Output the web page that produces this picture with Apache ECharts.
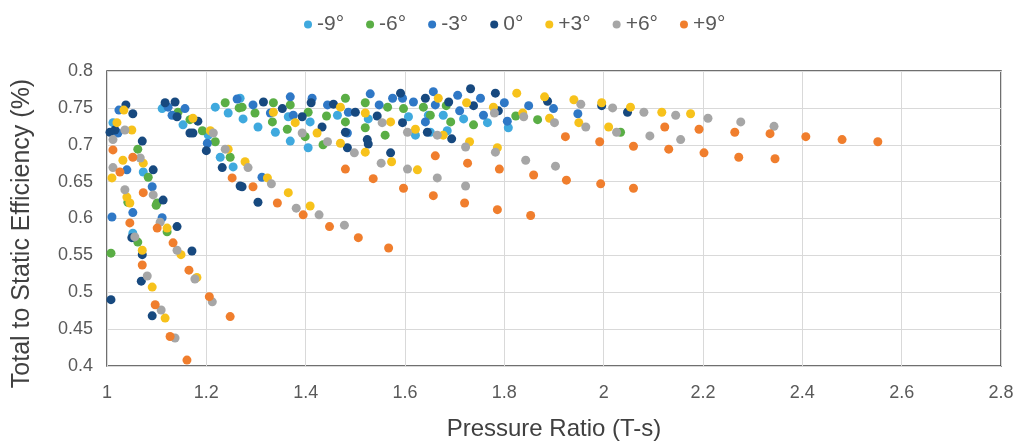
<!DOCTYPE html>
<html>
<head>
<meta charset="utf-8">
<script src="https://cdn.jsdelivr.net/npm/echarts@6/dist/echarts.min.js"></script>
<style>
  html, body { margin: 0; padding: 0; background: #fff; }
  #main { width: 1019px; height: 443px; }
</style>
</head>
<body>
<div id="main"></div>
<script>
// tick labels (axis ranges)
const xTicks = [1, 1.2, 1.4, 1.6, 1.8, 2, 2.2, 2.4, 2.6, 2.8]
const yTicks = [0.4, 0.45, 0.5, 0.55, 0.6, 0.65, 0.7, 0.75, 0.8]

const seriesNames = ['-9°', '-6°', '-3°', '0°', '+3°', '+6°', '+9°']

// [pressure ratio, efficiency]
const minus9 = [
  [1.012, 0.730], [1.073, 0.663], [1.052, 0.580], [1.111, 0.749], [1.153, 0.727],
  [1.204, 0.713], [1.228, 0.683], [1.254, 0.670], [1.218, 0.751], [1.244, 0.743],
  [1.274, 0.735], [1.268, 0.763], [1.304, 0.724], [1.339, 0.717], [1.365, 0.738],
  [1.369, 0.705], [1.409, 0.731], [1.405, 0.696], [1.464, 0.740], [1.526, 0.735],
  [1.607, 0.738], [1.647, 0.740], [1.621, 0.713], [1.677, 0.740], [1.718, 0.735],
  [1.766, 0.730], [1.808, 0.723], [1.651, 0.717], [1.685, 0.719]
]
const minus6 = [
  [1.062, 0.694], [1.083, 0.656], [1.101, 0.621], [1.042, 0.622], [1.099, 0.618],
  [1.121, 0.582], [1.062, 0.568], [1.008, 0.553], [1.143, 0.744], [1.167, 0.734],
  [1.192, 0.719], [1.218, 0.704], [1.248, 0.683], [1.238, 0.757], [1.266, 0.750],
  [1.272, 0.751], [1.298, 0.743], [1.333, 0.731], [1.335, 0.757], [1.369, 0.754],
  [1.363, 0.721], [1.399, 0.711], [1.405, 0.744], [1.435, 0.700], [1.442, 0.739],
  [1.480, 0.763], [1.480, 0.731], [1.520, 0.757], [1.520, 0.723], [1.560, 0.713],
  [1.565, 0.751], [1.597, 0.749], [1.637, 0.751], [1.683, 0.753], [1.651, 0.740],
  [1.692, 0.731], [1.738, 0.727], [1.823, 0.739], [1.867, 0.734], [2.034, 0.717]
]
const minus3 = [
  [1.024, 0.747], [1.022, 0.716], [1.040, 0.666], [1.091, 0.643], [1.052, 0.608],
  [1.010, 0.602], [1.123, 0.751], [1.157, 0.749], [1.131, 0.740], [1.202, 0.702],
  [1.262, 0.762], [1.111, 0.601], [1.294, 0.754], [1.312, 0.656], [1.329, 0.743],
  [1.369, 0.765], [1.375, 0.740], [1.413, 0.763], [1.444, 0.754], [1.486, 0.744],
  [1.484, 0.716], [1.530, 0.769], [1.548, 0.754], [1.575, 0.763], [1.595, 0.763],
  [1.617, 0.758], [1.641, 0.731], [1.657, 0.772], [1.661, 0.754], [1.706, 0.767],
  [1.710, 0.746], [1.752, 0.763], [1.758, 0.740], [1.800, 0.757], [1.806, 0.732],
  [1.849, 0.753], [1.899, 0.749], [1.948, 0.742]
]
const zero = [
  [1.038, 0.754], [1.052, 0.742], [1.016, 0.720], [1.006, 0.717], [1.071, 0.705],
  [1.093, 0.666], [1.113, 0.625], [1.117, 0.757], [1.137, 0.758], [1.141, 0.738],
  [1.183, 0.732], [1.167, 0.716], [1.173, 0.716], [1.200, 0.692], [1.232, 0.669],
  [1.268, 0.644], [1.141, 0.589], [1.050, 0.574], [1.171, 0.556], [1.071, 0.551],
  [1.069, 0.515], [1.008, 0.490], [1.091, 0.468], [1.315, 0.758], [1.353, 0.749],
  [1.393, 0.738], [1.411, 0.757], [1.433, 0.724], [1.456, 0.755], [1.484, 0.696],
  [1.500, 0.744], [1.480, 0.717], [1.524, 0.707], [1.526, 0.701], [1.544, 0.739],
  [1.571, 0.689], [1.591, 0.770], [1.595, 0.730], [1.641, 0.763], [1.645, 0.717],
  [1.272, 0.643], [1.304, 0.622], [1.688, 0.758], [1.732, 0.776], [1.738, 0.753],
  [1.788, 0.746], [1.782, 0.770], [1.887, 0.759], [1.996, 0.753], [2.048, 0.744],
  [1.694, 0.708]
]
const plus3 = [
  [1.034, 0.747], [1.020, 0.730], [1.050, 0.720], [1.032, 0.679], [1.073, 0.675],
  [1.010, 0.655], [1.040, 0.629], [1.046, 0.621], [1.173, 0.736], [1.208, 0.719],
  [1.244, 0.694], [1.278, 0.677], [1.121, 0.587], [1.149, 0.551], [1.071, 0.557],
  [1.091, 0.507], [1.181, 0.520], [1.117, 0.465], [1.335, 0.744], [1.379, 0.730],
  [1.423, 0.716], [1.470, 0.751], [1.470, 0.702], [1.520, 0.743], [1.520, 0.690],
  [1.571, 0.731], [1.573, 0.677], [1.621, 0.721], [1.667, 0.763], [1.625, 0.666],
  [1.323, 0.655], [1.365, 0.635], [1.409, 0.617], [1.724, 0.757], [1.778, 0.751],
  [1.825, 0.770], [1.837, 0.743], [1.881, 0.765], [1.891, 0.736], [1.940, 0.761],
  [1.950, 0.730], [1.996, 0.757], [2.010, 0.724], [1.677, 0.713], [1.730, 0.704],
  [1.786, 0.696], [2.054, 0.751], [2.117, 0.744], [2.175, 0.742]
]
const plus6 = [
  [1.036, 0.720], [1.012, 0.707], [1.067, 0.682], [1.012, 0.669], [1.036, 0.639],
  [1.093, 0.632], [1.107, 0.595], [1.214, 0.716], [1.238, 0.694], [1.284, 0.669],
  [1.056, 0.575], [1.141, 0.557], [1.081, 0.522], [1.177, 0.518], [1.109, 0.476],
  [1.212, 0.487], [1.137, 0.438], [1.393, 0.716], [1.444, 0.704], [1.498, 0.689],
  [1.554, 0.730], [1.605, 0.717], [1.552, 0.675], [1.605, 0.667], [1.665, 0.713],
  [1.331, 0.647], [1.381, 0.614], [1.427, 0.605], [1.478, 0.591], [1.665, 0.655],
  [1.780, 0.743], [1.839, 0.738], [1.901, 0.730], [1.954, 0.755], [1.964, 0.724],
  [2.018, 0.750], [2.026, 0.717], [1.722, 0.697], [1.782, 0.690], [1.843, 0.679],
  [1.903, 0.671], [1.722, 0.644], [2.081, 0.744], [2.145, 0.740], [2.210, 0.736],
  [2.276, 0.731], [2.343, 0.725], [2.093, 0.712], [2.155, 0.707]
]
const plus9 = [
  [1.012, 0.693], [1.052, 0.683], [1.026, 0.663], [1.073, 0.635], [1.252, 0.655],
  [1.046, 0.594], [1.101, 0.587], [1.133, 0.567], [1.071, 0.537], [1.165, 0.530],
  [1.097, 0.483], [1.206, 0.494], [1.248, 0.467], [1.127, 0.440], [1.161, 0.408],
  [1.294, 0.643], [1.343, 0.621], [1.395, 0.605], [1.448, 0.589], [1.506, 0.574],
  [1.567, 0.560], [1.480, 0.667], [1.536, 0.654], [1.597, 0.641], [1.661, 0.685],
  [1.657, 0.631], [1.726, 0.675], [1.790, 0.667], [1.923, 0.711], [1.992, 0.704],
  [1.859, 0.659], [1.925, 0.652], [1.994, 0.647], [1.720, 0.621], [1.786, 0.612],
  [1.853, 0.604], [2.123, 0.724], [2.192, 0.721], [2.264, 0.717], [2.335, 0.715],
  [2.407, 0.711], [2.060, 0.698], [2.131, 0.694], [2.202, 0.689], [2.272, 0.683],
  [2.345, 0.681], [2.060, 0.641], [2.480, 0.707], [2.552, 0.704]
]

const allData = [minus9, minus6, minus3, zero, plus3, plus6, plus9]
const colors = ['#3FA9DE', '#5AAE45', '#2F78C6', '#17497F', '#F7C21B', '#A6A6A6', '#F07E2D']

const font = "'Liberation Sans', Arial, sans-serif"
const textColor = '#595959'

const chart = echarts.init(document.getElementById('main'))
const option = {
  animation: false,
  textStyle: { fontFamily: font },
  color: colors,
  legend: {
    top: 9,
    left: 299,
    icon: 'circle',
    itemWidth: 8,
    itemHeight: 8,
    itemGap: 22,
    textStyle: { fontSize: 21, color: textColor, fontFamily: font },
    data: seriesNames
  },
  grid: {
    left: 107,
    right: 18,
    top: 71,
    bottom: 77,
    outerBoundsMode: 'none',
    show: true,
    borderColor: '#404040',
    borderWidth: 1.5
  },
  xAxis: {
    type: 'value',
    min: xTicks[0],
    max: xTicks[xTicks.length - 1],
    interval: 0.2,
    name: 'Pressure Ratio (T-s)',
    nameLocation: 'middle',
    nameGap: 51,
    nameTextStyle: { fontSize: 24, color: '#404040', fontFamily: font },
    axisLine: { show: false },
    axisTick: { show: false },
    axisLabel: { fontSize: 18, color: textColor, margin: 18 },
    splitLine: { lineStyle: { color: '#D9D9D9', width: 1 } }
  },
  yAxis: {
    type: 'value',
    min: yTicks[0],
    max: yTicks[yTicks.length - 1],
    interval: 0.05,
    name: 'Total to Static Efficiency (%)',
    nameLocation: 'middle',
    nameGap: 72,
    nameTextStyle: { fontSize: 25, color: '#404040', fontFamily: font, padding: [0, 30, 0, 0] },
    axisLine: { show: false },
    axisTick: { show: false },
    axisLabel: { fontSize: 18, color: textColor, margin: 14 },
    splitLine: { lineStyle: { color: '#D9D9D9', width: 1 } }
  },
  series: seriesNames.map((name, i) => ({
    name: name,
    type: 'scatter',
    symbol: 'circle',
    symbolSize: 9,
    itemStyle: { color: colors[i], opacity: 1 },
    data: allData[i]
  }))
}
chart.setOption(option)
</script>
</body>
</html>
